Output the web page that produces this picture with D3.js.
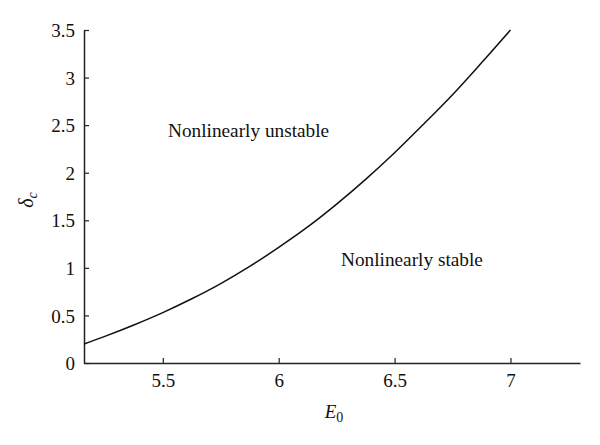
<!DOCTYPE html>
<html>
<head>
<meta charset="utf-8">
<script src="https://cdn.jsdelivr.net/npm/d3@7"></script>
<style>
  html, body { margin: 0; padding: 0; background: #fff; }
  svg { display: block; }
  text { font-family: "Liberation Serif", "DejaVu Serif", serif; fill: #111; }
</style>
</head>
<body>
<svg id="chart" width="600" height="445"></svg>
<script>
// Data
const E0 = [5.16, 5.25, 5.375, 5.5, 5.625, 5.75, 5.875, 6, 6.125, 6.25, 6.375, 6.5, 6.625, 6.75, 6.875, 7];
const deltaC = [0.20, 0.28, 0.40, 0.53, 0.675, 0.835, 1.015, 1.215, 1.43, 1.67, 1.93, 2.21, 2.51, 2.82, 3.155, 3.5];
const xTicks = [5.5, 6, 6.5, 7];
const yTicks = [0, 0.5, 1, 1.5, 2, 2.5, 3, 3.5];
const xDomain = [5.16, 7.3];
const yDomain = [0, 3.5];
const regionLabels = ["Nonlinearly unstable", "Nonlinearly stable"];

const svg = d3.select("#chart");
const mLeft = 84, mRight = 580, mTop = 30, mBottom = 363;

const x = d3.scaleLinear().domain(xDomain).range([mLeft, mRight]);
const y = d3.scaleLinear().domain(yDomain).range([mBottom, mTop]);

// X axis (ticks inward)
const xAxis = svg.append("g").attr("transform", `translate(0,${mBottom})`)
  .call(d3.axisBottom(x).tickValues(xTicks).tickSizeInner(-5).tickSizeOuter(0)
    .tickFormat(d3.format("")));
xAxis.attr("font-family", "Liberation Serif, serif").attr("font-size", 19);
xAxis.select(".domain").attr("stroke", "#222").attr("stroke-width", 1.5);
xAxis.selectAll(".tick line").attr("stroke", "#222").attr("stroke-width", 1.2);
xAxis.selectAll(".tick text").attr("y", 24).attr("dy", 0).attr("fill", "#111");

// Y axis (ticks inward)
const yAxis = svg.append("g").attr("transform", `translate(${mLeft},0)`)
  .call(d3.axisLeft(y).tickValues(yTicks).tickSizeInner(-5).tickSizeOuter(0)
    .tickFormat(d3.format("")));
yAxis.attr("font-family", "Liberation Serif, serif").attr("font-size", 19);
yAxis.select(".domain").attr("stroke", "#222").attr("stroke-width", 1.5);
yAxis.selectAll(".tick line").attr("stroke", "#222").attr("stroke-width", 1.2);
yAxis.selectAll(".tick text").attr("x", -9).attr("dy", "0.35em").attr("fill", "#111");

// Curve
const line = d3.line().x((d, i) => x(E0[i])).y(d => y(d)).curve(d3.curveCatmullRom);
svg.append("path").datum(deltaC)
  .attr("d", line).attr("fill", "none").attr("stroke", "#111").attr("stroke-width", 1.5);

// Region labels
svg.append("text").attr("x", 168).attr("y", 137)
  .style("font-size", "19.3px").text(regionLabels[0]);
svg.append("text").attr("x", 341).attr("y", 266)
  .style("font-size", "19.3px").text(regionLabels[1]);

// X axis title E0
const xt = svg.append("text").attr("x", (mLeft + mRight) / 2 + 2).attr("y", 418)
  .attr("text-anchor", "middle").style("font-size", "19px");
xt.append("tspan").style("font-style", "italic").text("E");
xt.append("tspan").attr("dy", 4).style("font-size", "14px").text("0");

// Y axis title delta_c
const yt = svg.append("text").attr("transform", "translate(33,200) rotate(-90)")
  .attr("text-anchor", "middle").style("font-size", "20px");
yt.append("tspan").style("font-style", "italic").text("δ");
yt.append("tspan").attr("dy", 4).style("font-size", "14px").style("font-style", "italic").text("c");
</script>
</body>
</html>
